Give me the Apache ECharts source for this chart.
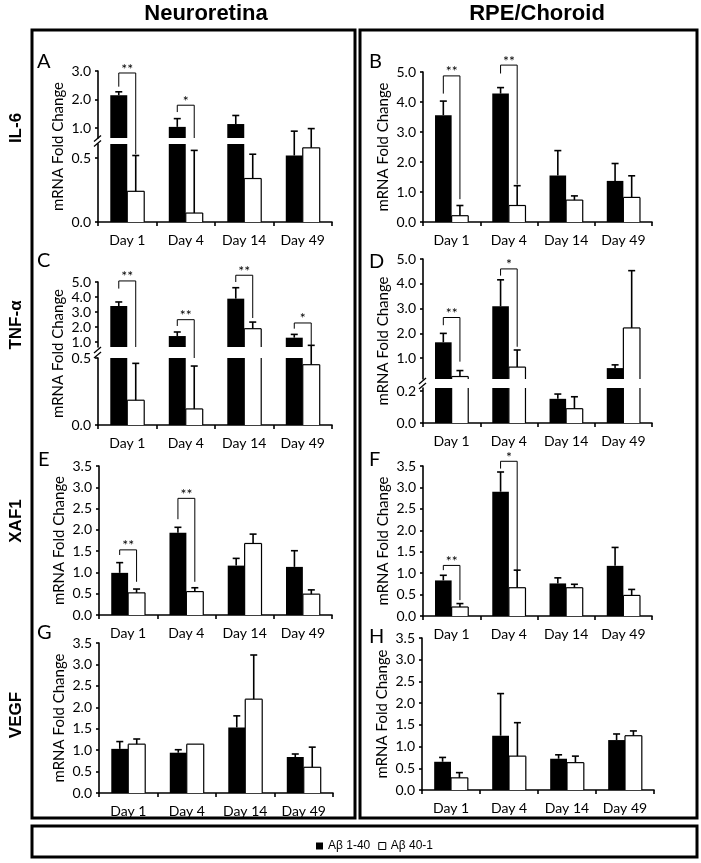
<!DOCTYPE html>
<html><head><meta charset="utf-8">
<script src="https://cdn.jsdelivr.net/npm/echarts@6/dist/echarts.min.js"></script>
<style>html,body{margin:0;padding:0;background:#fff}#c{width:701px;height:863px}</style>
</head><body><div id="c"></div>
<script>
// ---------- DATA ----------
const categories = ['Day 1', 'Day 4', 'Day 14', 'Day 49'];
const seriesNames = ['Aβ 1-40', 'Aβ 40-1'];
const columnTitles = ['Neuroretina', 'RPE/Choroid'];
const rowTitles = ['IL-6', 'TNF-α', 'XAF1', 'VEGF'];
const yTitle = 'mRNA Fold Change';

// A: IL-6, Neuroretina
const aBlack = [2.15, 1.04, 1.14, 0.52];
const aBlackErr = [0.12, 0.29, 0.30, 0.37];
const aWhite = [0.24, 0.07, 0.34, 0.58];
const aWhiteErr = [0.28, 0.49, 0.19, 0.40];
const aBrackets = [[0, 2.45, 2.93, 0.53, '**'], [1, 1.56, 1.80, 0.65, '*']];
const aUpperTicks = [1, 2, 3];
const aLowerTicks = [0, 0.5];

// B: IL-6, RPE/Choroid
const bBlack = [3.56, 4.28, 1.55, 1.37];
const bBlackErr = [0.47, 0.20, 0.83, 0.58];
const bWhite = [0.21, 0.55, 0.73, 0.82];
const bWhiteErr = [0.34, 0.66, 0.14, 0.72];
const bBrackets = [[0, 4.28, 4.87, 0.76, '**'], [1, 4.95, 5.23, 1.25, '**']];
const bTicks = [0, 1, 2, 3, 4, 5];

// C: TNF-α, Neuroretina
const cBlack = [3.40, 1.40, 3.89, 1.29];
const cBlackErr = [0.27, 0.27, 0.73, 0.22];
const cWhite = [0.185, 0.12, 1.89, 0.45];
const cWhiteErr = [0.275, 0.32, 0.44, 0.33];
const cBrackets = [[0, 4.56, 5.07, 0.67, '**'], [1, 2.07, 2.49, 0.5, '**'], [2, 5.0, 5.45, 2.6, '**'], [3, 1.89, 2.27, 0.78, '*']];
const cUpperTicks = [1, 2, 3, 4, 5];
const cLowerTicks = [0, 0.5];

// D: TNF-α, RPE/Choroid
const dBlack = [1.64, 3.09, 0.152, 0.60];
const dBlackErr = [0.36, 1.07, 0.03, 0.13];
const dWhite = [0.26, 0.64, 0.09, 2.22];
const dWhiteErr = [0.24, 0.69, 0.075, 2.31];
const dBrackets = [[0, 2.33, 2.64, 0.86, '**'], [1, 4.33, 4.6, 1.46, '*']];
const dUpperTicks = [1, 2, 3, 4, 5];
const dLowerTicks = [0, 0.2];

// E: XAF1, Neuroretina
const eBlack = [0.99, 1.93, 1.16, 1.13];
const eBlackErr = [0.24, 0.13, 0.17, 0.38];
const eWhite = [0.52, 0.55, 1.68, 0.49];
const eWhiteErr = [0.09, 0.09, 0.22, 0.10];
const eBrackets = [[0, 1.41, 1.53, 0.78, '**'], [1, 2.25, 2.74, 0.78, '**']];
const eTicks = [0, 0.5, 1, 1.5, 2, 2.5, 3, 3.5];

// F: XAF1, RPE/Choroid
const fBlack = [0.83, 2.90, 0.76, 1.17];
const fBlackErr = [0.12, 0.46, 0.13, 0.43];
const fWhite = [0.21, 0.66, 0.66, 0.48];
const fWhiteErr = [0.08, 0.41, 0.08, 0.14];
const fBrackets = [[0, 1.07, 1.18, 0.37, '**'], [1, 3.44, 3.61, 1.03, '*']];
const fTicks = [0, 0.5, 1, 1.5, 2, 2.5, 3, 3.5];

// G: VEGF, Neuroretina
const gBlack = [1.03, 0.94, 1.53, 0.84];
const gBlackErr = [0.17, 0.07, 0.27, 0.07];
const gWhite = [1.14, 1.14, 2.19, 0.60];
const gWhiteErr = [0.12, 0, 1.03, 0.47];
const gBrackets = [];
const gTicks = [0, 0.5, 1, 1.5, 2, 2.5, 3, 3.5];

// H: VEGF, RPE/Choroid
const hBlack = [0.65, 1.25, 0.72, 1.15];
const hBlackErr = [0.10, 0.97, 0.09, 0.14];
const hWhite = [0.28, 0.78, 0.63, 1.25];
const hWhiteErr = [0.12, 0.77, 0.15, 0.11];
const hBrackets = [];
const hTicks = [0, 0.5, 1, 1.5, 2, 2.5, 3, 3.5];

// ---------- LAYOUT ----------
const FONT = 'Lato';
const AX = '#000';
const AXW = 1.6;
const BAR_FRAC = 0.29;
const NAME_FS = 15;
const NAME_GAP = 32;

const panels = [
  {letter: 'A', lx: 37, ly: 52, black: aBlack, blackErr: aBlackErr, white: aWhite, whiteErr: aWhiteErr, brackets: aBrackets,
   left: 98, right: 332, segs: [{top: 71, bottom: 138, min: 0.65, max: 3, ticks: aUpperTicks}, {top: 144, bottom: 222, min: 0, max: 0.61, ticks: aLowerTicks}]},
  {letter: 'B', lx: 369, ly: 52, black: bBlack, blackErr: bBlackErr, white: bWhite, whiteErr: bWhiteErr, brackets: bBrackets,
   left: 423, right: 652, segs: [{top: 72, bottom: 222, min: 0, max: 5, ticks: bTicks}]},
  {letter: 'C', lx: 37, ly: 251, black: cBlack, blackErr: cBlackErr, white: cWhite, whiteErr: cWhiteErr, brackets: cBrackets,
   left: 98, right: 332, segs: [{top: 282, bottom: 347, min: 0.67, max: 5, ticks: cUpperTicks}, {top: 358, bottom: 425, min: 0, max: 0.5, ticks: cLowerTicks}]},
  {letter: 'D', lx: 369, ly: 252, black: dBlack, blackErr: dBlackErr, white: dWhite, whiteErr: dWhiteErr, brackets: dBrackets,
   left: 423, right: 652, segs: [{top: 259, bottom: 379, min: 0.16, max: 5, ticks: dUpperTicks}, {top: 388, bottom: 423, min: 0, max: 0.22, ticks: dLowerTicks}]},
  {letter: 'E', lx: 38, ly: 450, black: eBlack, blackErr: eBlackErr, white: eWhite, whiteErr: eWhiteErr, brackets: eBrackets,
   left: 99, right: 332, segs: [{top: 466, bottom: 615, min: 0, max: 3.5, ticks: eTicks}]},
  {letter: 'F', lx: 369, ly: 450, black: fBlack, blackErr: fBlackErr, white: fWhite, whiteErr: fWhiteErr, brackets: fBrackets,
   left: 423, right: 652, segs: [{top: 466, bottom: 616, min: 0, max: 3.5, ticks: fTicks}]},
  {letter: 'G', lx: 37, ly: 623, black: gBlack, blackErr: gBlackErr, white: gWhite, whiteErr: gWhiteErr, brackets: gBrackets,
   left: 99, right: 333, segs: [{top: 643, bottom: 793, min: 0, max: 3.5, ticks: gTicks}]},
  {letter: 'H', lx: 369, ly: 627, black: hBlack, blackErr: hBlackErr, white: hWhite, whiteErr: hWhiteErr, brackets: hBrackets,
   left: 422, right: 654, segs: [{top: 638, bottom: 790, min: 0, max: 3.5, ticks: hTicks}]}
];

const option = {
  animation: false,
  backgroundColor: '#fff',
  grid: [], xAxis: [], yAxis: [], series: [], graphic: [],
  legend: {
    data: [
      {name: seriesNames[0], itemStyle: {color: '#000', borderWidth: 0}},
      {name: seriesNames[1], itemStyle: {color: '#fff', borderColor: '#000', borderWidth: 1}}
    ],
    left: 311, top: 835, itemWidth: 7, itemHeight: 7, itemGap: 8, icon: 'rect',
    selectedMode: false,
    textStyle: {fontFamily: 'Liberation Sans', fontSize: 12, color: '#000'}
  }
};

// segment helpers (segments ordered top -> bottom)
function inSeg(v, segs, si) {
  const seg = segs[si], n = segs.length;
  if (si < n - 1) return v >= seg.min && v > segs[si + 1].max && (si === 0 || v <= seg.max);
  return si === 0 || v <= seg.max;
}
function piece(api, segs, si, v1, v2, extend) {
  const seg = segs[si], n = segs.length;
  const isTop = si === 0, isBot = si === n - 1;
  if (!isBot && (v2 < seg.min || v2 <= segs[si + 1].max)) return null;
  if (!isTop && v1 > seg.max) return null;
  const a = isBot ? v1 : Math.max(v1, seg.min);
  const b = isTop ? v2 : Math.min(v2, seg.max);
  const y1 = api.coord([0, a])[1];
  let y2 = api.coord([0, b])[1];
  if (extend && !isTop && v2 > seg.max) y2 -= seg.top - segs[si - 1].bottom;
  return [y1, y2];
}
function ln(x1, y1, x2, y2, w) {
  return {type: 'line', shape: {x1, y1, x2, y2}, style: {stroke: '#000', lineWidth: w}};
}

panels.forEach(p => {
  const segs = p.segs, n = segs.length;
  segs.forEach((seg, si) => {
    const gi = option.grid.length;
    const isBottom = si === n - 1;
    option.grid.push({left: p.left, top: seg.top, width: p.right - p.left, height: seg.bottom - seg.top,
      containLabel: false, outerBoundsMode: 'none'});
    option.xAxis.push({
      gridIndex: gi, type: 'category', data: categories, show: isBottom,
      axisLine: {show: true, onZero: false, lineStyle: {color: AX, width: AXW}},
      axisTick: {show: true, length: 4, lineStyle: {color: AX, width: AXW}},
      axisLabel: {margin: 11, color: '#000', fontFamily: FONT, fontSize: 14, interval: 0},
      splitLine: {show: false}
    });
    option.yAxis.push({
      gridIndex: gi, type: 'value', min: seg.min, max: seg.max,
      name: n === 1 ? yTitle : '', nameLocation: 'middle', nameGap: NAME_GAP,
      nameTextStyle: {fontFamily: FONT, fontSize: NAME_FS, color: '#000'},
      axisLine: {show: true, onZero: false, lineStyle: {color: AX, width: AXW}},
      axisTick: {show: true, length: 3, customValues: seg.ticks, lineStyle: {color: AX, width: AXW}},
      axisLabel: {customValues: seg.ticks, formatter: v => v.toFixed(1), margin: 7, color: '#000', fontFamily: FONT, fontSize: 14},
      splitLine: {show: false}
    });
    option.series.push({
      type: 'bar', name: seriesNames[0], xAxisIndex: gi, yAxisIndex: gi, data: p.black,
      barWidth: (BAR_FRAC * 100) + '%', barGap: '0%', clip: true, silent: true, z: 2,
      itemStyle: {color: '#000', borderWidth: 0}
    });
    option.series.push({
      type: 'bar', name: seriesNames[1], xAxisIndex: gi, yAxisIndex: gi, data: p.white,
      barWidth: (BAR_FRAC * 100) + '%', barGap: '0%', clip: true, silent: true, z: 2,
      itemStyle: {color: '#fff', borderWidth: 0}
    });
    // white bar outlines + error bars
    const markData = [];
    p.black.forEach((v, i) => markData.push([i, v, v + p.blackErr[i], -1]));
    p.white.forEach((v, i) => markData.push([i, v, v + p.whiteErr[i], 1]));
    option.series.push({
      type: 'custom', xAxisIndex: gi, yAxisIndex: gi, data: markData, clip: false, silent: true, z: 4,
      encode: {x: 0, y: [1, 2]},
      renderItem: (params, api) => {
        const i = api.value(0), v = api.value(1), top = api.value(2), side = api.value(3);
        const bw = api.size([1, 0])[0] * BAR_FRAC;
        const c = api.coord([i, 0])[0];
        const x = c + side * bw / 2;
        const ch = [];
        if (side > 0) {
          const pc = piece(api, segs, si, 0, v, false);
          if (pc) {
            ch.push(ln(c, pc[0], c, pc[1], 1.2));
            ch.push(ln(c + bw, pc[0], c + bw, pc[1], 1.2));
            if (inSeg(v, segs, si)) ch.push(ln(c, pc[1], c + bw, pc[1], 1.2));
          }
        }
        if (top > v) {
          const pe = piece(api, segs, si, v, top, true);
          if (pe) ch.push(ln(x, pe[0], x, pe[1], 1.6));
          if (inSeg(top, segs, si)) {
            const yt = api.coord([0, top])[1];
            ch.push(ln(x - 3.5, yt, x + 3.5, yt, 1.6));
          }
        }
        return {type: 'group', children: ch};
      }
    });
    if (p.brackets.length) {
      option.series.push({
        type: 'custom', xAxisIndex: gi, yAxisIndex: gi, clip: false, silent: true, z: 5,
        data: p.brackets.map(b => [b[0], b[1], b[2], b[3]]),
        encode: {x: 0, y: [1, 2, 3]},
        renderItem: (params, api) => {
          const i = api.value(0), l = api.value(1), t = api.value(2), r = api.value(3);
          const bw = api.size([1, 0])[0] * BAR_FRAC;
          const c = api.coord([i, 0])[0];
          const xl = c - bw / 2, xr = c + bw / 2;
          const ch = [];
          const pl = piece(api, segs, si, l, t, true);
          if (pl) ch.push(ln(xl, pl[0], xl, pl[1], 1));
          const pr = piece(api, segs, si, r, t, true);
          if (pr) ch.push(ln(xr, pr[0], xr, pr[1], 1));
          if (inSeg(t, segs, si)) {
            const yt = api.coord([0, t])[1];
            ch.push(ln(xl, yt, xr, yt, 1));
            ch.push({type: 'text', style: {text: p.brackets[params.dataIndex][4], x: c, y: yt + 3,
              align: 'center', verticalAlign: 'bottom', font: '14px Lato', fill: '#000'}});
          }
          return {type: 'group', children: ch};
        }
      });
    }
  });
  if (n > 1) {
    const gi = option.grid.length;
    const top = segs[0].top, bottom = segs[n - 1].bottom;
    option.grid.push({left: p.left, top: top, width: p.right - p.left, height: bottom - top, containLabel: false, outerBoundsMode: 'none'});
    option.xAxis.push({gridIndex: gi, type: 'category', data: categories, show: false});
    option.yAxis.push({gridIndex: gi, type: 'value', min: 0, max: 1, name: yTitle, nameLocation: 'middle', nameGap: NAME_GAP,
      nameTextStyle: {fontFamily: FONT, fontSize: NAME_FS, color: '#000'},
      axisLine: {show: false}, axisTick: {show: false}, axisLabel: {show: false}, splitLine: {show: false}});
    for (let s = 1; s < n; s++) {
      const m = (segs[s - 1].bottom + segs[s].top) / 2;
      [-2.5, 2.5].forEach(d => option.graphic.push({type: 'line', silent: true,
        shape: {x1: p.left - 4, y1: m + d + 3, x2: p.left + 3, y2: m + d - 3},
        style: {stroke: '#000', lineWidth: 1.3}}));
    }
  }
  option.graphic.push({type: 'text', silent: true, x: p.lx, y: p.ly,
    style: {text: p.letter, font: '20px Lato', fill: '#000', align: 'left', verticalAlign: 'top'}});
});

// frames and titles
option.graphic.push(
  {type: 'rect', silent: true, shape: {x: 32, y: 30, width: 323, height: 788}, style: {fill: 'none', stroke: '#000', lineWidth: 3}},
  {type: 'rect', silent: true, shape: {x: 360, y: 30, width: 337, height: 788}, style: {fill: 'none', stroke: '#000', lineWidth: 3}},
  {type: 'rect', silent: true, shape: {x: 32, y: 826, width: 665, height: 31}, style: {fill: 'none', stroke: '#000', lineWidth: 3}},
  {type: 'text', silent: true, x: 206, y: 14, style: {text: columnTitles[0], font: 'bold 22px "Liberation Sans"', fill: '#000', align: 'center', verticalAlign: 'middle'}},
  {type: 'text', silent: true, x: 537, y: 14, style: {text: columnTitles[1], font: 'bold 22px "Liberation Sans"', fill: '#000', align: 'center', verticalAlign: 'middle'}}
);
[128, 325, 521, 715].forEach((y, k) => option.graphic.push({type: 'text', silent: true, x: 16, y: y, rotation: Math.PI / 2,
  style: {text: rowTitles[k], font: 'bold 17px "Liberation Sans"', fill: '#000', align: 'center', verticalAlign: 'middle'}}));

const chart = echarts.init(document.getElementById('c'), null, {renderer: 'canvas'});
chart.setOption(option);
</script></body></html>
